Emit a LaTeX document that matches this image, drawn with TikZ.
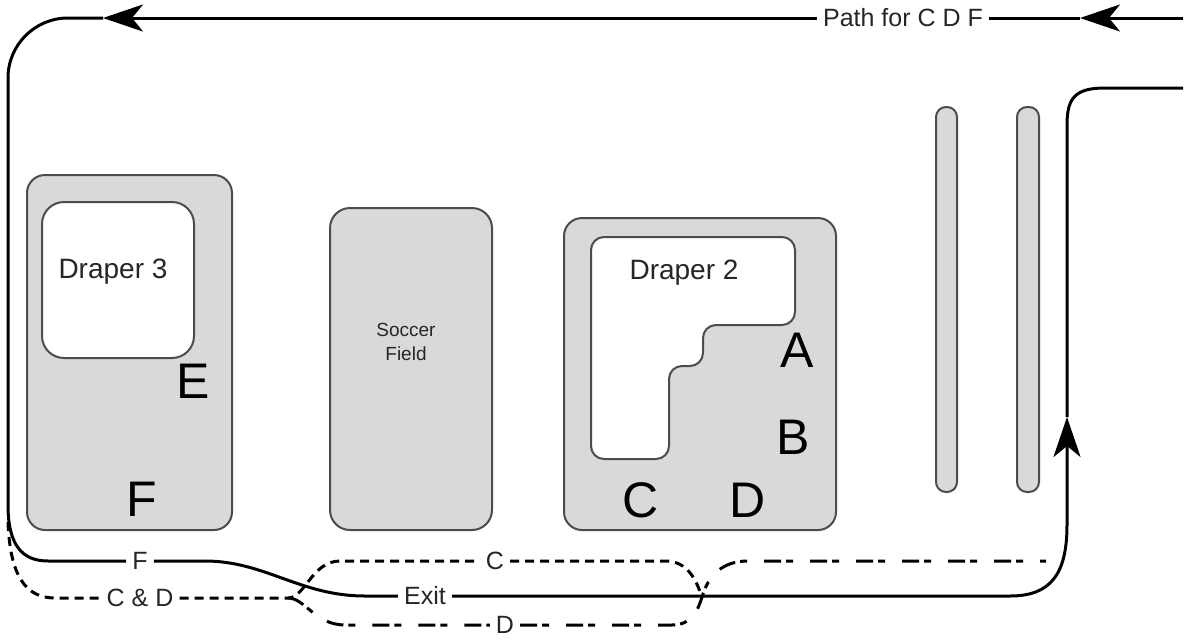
\documentclass[tikz,border=0pt]{standalone}
\usepackage{fontspec}
\setmainfont{Liberation Sans}
\usetikzlibrary{arrows.meta}

\begin{document}
\begin{tikzpicture}[x=1pt,y=-1pt,
  route/.style={line width=3pt,black},
  cpath/.style={line width=3pt,black,dash pattern=on 9pt off 6pt},
  dpath/.style={line width=3pt,black,dash pattern=on 17pt off 5pt on 7pt off 17pt},
  bldg/.style={draw=black!70,line width=2pt,fill=black!15},
  hall/.style={draw=black!70,line width=2pt,fill=white},
  lbl/.style={inner sep=6pt,text=black!85,font=\fontsize{25}{29}\selectfont},
  hallname/.style={text=black!85,font=\fontsize{28}{32}\selectfont},
  zone/.style={font=\fontsize{50}{56}\selectfont},
  tip/.style={-{Stealth[length=40pt,width=27pt,inset=11pt]}}]
\useasboundingbox (0,0) rectangle (1189,643);

\draw[bldg,rounded corners=18pt] (27,175) rectangle (232,530);
\draw[hall,rounded corners=22pt] (42,202) rectangle (194,358);
\draw[bldg,rounded corners=20pt] (330,208) rectangle (492,530);
\draw[bldg,rounded corners=18pt] (564,218) rectangle (836,530);
\draw[hall,rounded corners=13pt] (591,237) -- (795,237) -- (795,325) -- (703,325)
  -- (703,366) -- (669,366) -- (669,459) -- (591,459) -- cycle;
\draw[bldg,rounded corners=10pt] (936,107) rectangle (957,492);
\draw[bldg,rounded corners=10pt] (1017,107) rectangle (1039,492);

\node[hallname] (dr3) at (113,272) {Draper 3};
\node[zone] (zE) at (193,381) {E};
\node[zone] (zF) at (142,499) {F};
\node[align=center,text=black!85,font=\fontsize{19}{24}\selectfont] (field) at (406,342) {Soccer\\Field};
\node[hallname] (dr2) at (684,273) {Draper 2};
\node[zone] (zA) at (797,350) {A};
\node[zone] (zB) at (793,437) {B};
\node[zone] (zC) at (641,500) {C};
\node[zone] (zD) at (748,500) {D};

\node[lbl] (pathlbl) at (903,18) {Path for C D F};
\node[lbl] (lblF) at (140,561) {F};
\node[lbl] (lblExit) at (425,596) {Exit};
\node[lbl] (lblCD) at (140,598) {C \& D};
\node[lbl] (lblC) at (495,561) {C};
\node[lbl] (lblD) at (505,625) {D};

\coordinate (topR) at (1183,18);
\coordinate (arrR) at (1080,18);
\coordinate (arrL) at (103,18);
\coordinate (arrU) at (1067,417);
\coordinate (exitR) at (1183,88);
\coordinate (cdL) at (8,522);
\coordinate (jn) at (288,598);
\coordinate (dEnd) at (1046,561);

\draw[route,tip] (topR) -- (arrR);
\draw[route] (arrR) -- (pathlbl);
\draw[route,tip] (pathlbl) -- (arrL);
\draw[route] (arrL) -- (68,18) arc[start angle=-90,end angle=-180,radius=60]
  -- (8,505) .. controls (8,545) and (22,561) .. (48,561) -- (lblF);
\draw[route] (lblF) -- (205,561) .. controls (265,561) and (300,596) .. (365,596) -- (lblExit);
\draw[route,tip] (lblExit) -- (1010,596) .. controls (1050,596) and (1067,575) .. (1067,525) -- (arrU);
\draw[route] (arrU) -- (1067,125) .. controls (1067,98) and (1075,88) .. (1105,88) -- (exitR);

\draw[cpath] (cdL) .. controls (10,575) and (25,598) .. (55,598) -- (lblCD);
\draw[cpath] (lblCD) -- (jn) .. controls (305,598) and (312,561) .. (340,561) -- (lblC);
\draw[cpath] (lblC) -- (665,561) .. controls (688,561) and (696,580) .. (702,597);
\draw[dpath] (jn) .. controls (305,598) and (315,625) .. (345,625) -- (lblD);
\draw[dpath] (lblD) -- (672,625) .. controls (692,625) and (698,610) .. (702,597)
  .. controls (708,576) and (722,561) .. (748,561) -- (dEnd);
\end{tikzpicture}
\end{document}
